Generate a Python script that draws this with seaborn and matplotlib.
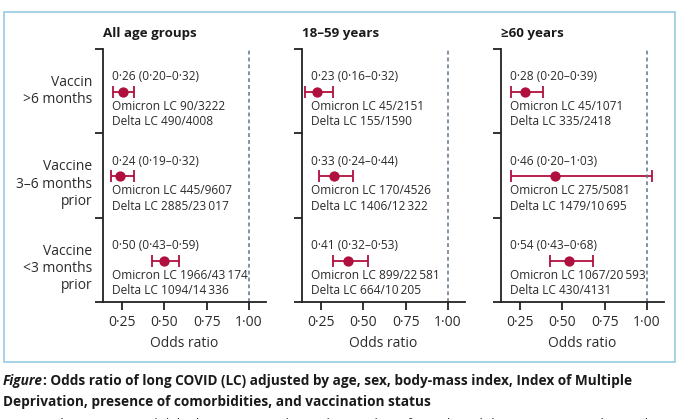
import numpy as np
import pandas as pd
import matplotlib.pyplot as plt
import seaborn as sns
from matplotlib.patches import Rectangle

# Values
panels = ['All age groups', '18–59 years', '≥60 years']
groups = ['Vaccin\n>6 months', 'Vaccine\n3–6 months\nprior', 'Vaccine\n<3 months\nprior']

odds = [[0.26, 0.24, 0.50],
        [0.23, 0.33, 0.41],
        [0.28, 0.46, 0.54]]
ci_low = [[0.20, 0.19, 0.43],
          [0.16, 0.24, 0.32],
          [0.20, 0.20, 0.43]]
ci_high = [[0.32, 0.32, 0.59],
           [0.32, 0.44, 0.53],
           [0.39, 1.03, 0.68]]
omicron = [['90/3222', '445/9607', '1966/43\u2009174'],
           ['45/2151', '170/4526', '899/22\u2009581'],
           ['45/1071', '275/5081', '1067/20\u2009593']]
delta = [['490/4008', '2885/23\u2009017', '1094/14\u2009336'],
         ['155/1590', '1406/12\u2009322', '664/10\u2009205'],
         ['335/2418', '1479/10\u2009695', '430/4131']]
xticks = [0.25, 0.50, 0.75, 1.00]

rows = []
for p, name in enumerate(panels):
    for g in range(len(groups)):
        rows.append(dict(panel=name, group=g, odds=odds[p][g],
                         lo=ci_low[p][g], hi=ci_high[p][g]))
df = pd.DataFrame(rows)

sns.set_style("ticks")
plt.rcParams['font.family'] = ['Open Sans', 'DejaVu Sans']
plt.rcParams['axes.linewidth'] = 1.3

red = '#b0103e'
dash = '#5b7690'
ink = '#2b2b2b'

fig = plt.figure(figsize=(6.8, 4.19), dpi=100)

# frame and caption layer
bg = fig.add_axes([0, 0, 1, 1])
bg.set_xlim(0, 680)
bg.set_ylim(419, 0)
bg.axis('off')
bg.add_patch(Rectangle((3.5, 12), 671, 350, fill=False, ec='#9fcfe2', lw=1.3))

lefts = [103, 302, 501]
for p, name in enumerate(panels):
    ax = fig.add_axes([lefts[p] / 680, 1 - 302 / 419, 163 / 680, 253 / 419])
    sub = df[df['panel'] == name].copy()
    sub['y'] = sub['group'] + 0.51
    ax.errorbar(sub['odds'], sub['y'],
                xerr=[sub['odds'] - sub['lo'], sub['hi'] - sub['odds']],
                fmt='none', ecolor=red, elinewidth=1.3, capsize=4, capthick=1.3)
    sns.scatterplot(data=sub, x='odds', y='y', color=red, s=55,
                    edgecolor=red, linewidth=0, ax=ax, zorder=3, legend=False)
    ax.axvline(1.0, color=dash, ls=(0, (2.5, 2)), lw=1.1)
    ax.set_xlim(0.14, 1.10)
    ax.set_ylim(3, 0)
    ax.set_xticks(xticks)
    ax.set_xticklabels([f'{t:.2f}'.replace('.', '·') for t in xticks], fontsize=10, color=ink)
    ax.set_yticks([0, 1, 2, 3])
    ax.set_yticklabels([])
    ax.tick_params(axis='both', length=6, width=1.3, color='#222222', pad=3)
    ax.set_xlabel('Odds ratio', fontsize=10, labelpad=5, color=ink)
    ax.set_ylabel('')
    sns.despine(ax=ax)
    ax.spines['left'].set_color('#222222')
    ax.spines['bottom'].set_color('#222222')
    ax.set_facecolor('none')
    ax.set_title(name, loc='left', fontsize=9.6, fontweight='bold', pad=9, x=0.0, color='#1a1a1a')
    for g in range(len(groups)):
        o, lo, hi = odds[p][g], ci_low[p][g], ci_high[p][g]
        txt = f'{o:.2f} ({lo:.2f}–{hi:.2f})'.replace('.', '·')
        ax.text(0.055, g + 0.33, txt, transform=ax.get_yaxis_transform(),
                fontsize=8.6, va='center', color=ink)
        ax.text(0.055, g + 0.68, 'Omicron LC ' + omicron[p][g],
                transform=ax.get_yaxis_transform(), fontsize=8.6, va='center', color=ink)
        ax.text(0.055, g + 0.865, 'Delta LC ' + delta[p][g],
                transform=ax.get_yaxis_transform(), fontsize=8.6, va='center', color=ink)
        if p == 0:
            ax.text(-0.065, g + 0.31, groups[g], transform=ax.get_yaxis_transform(),
                    fontsize=10, ha='right', va='top', linespacing=1.2, color=ink)

# caption
t1 = bg.text(3, 381, 'Figure', fontsize=9.8, fontweight='bold', fontstyle='italic',
             va='center', color='#1a1a1a')
bg.annotate(': Odds ratio of long COVID (LC) adjusted by age, sex, body-mass index, Index of Multiple',
            xy=(1, 0.5), xycoords=t1, va='center', fontsize=9.8, fontweight='bold', color='#1a1a1a')
bg.text(3, 402, 'Deprivation, presence of comorbidities, and vaccination status',
        fontsize=9.8, fontweight='bold', va='center', color='#1a1a1a')
bg.text(3, 424, 'Omicron long COVID and delta long COVID indicate the number of people with long COVID over the total number with COVID',
        fontsize=9.5, va='center', color='#333333')

fig.savefig('out.png', dpi=100)
